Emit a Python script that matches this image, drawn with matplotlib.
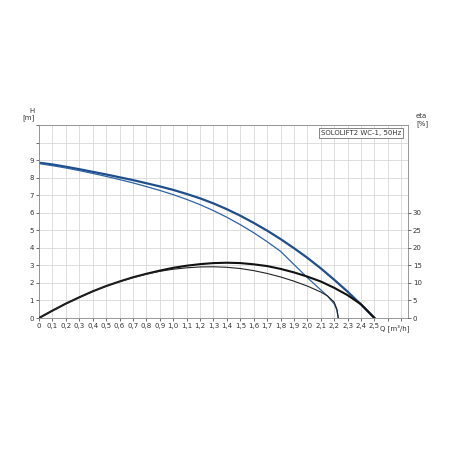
import numpy as np
import matplotlib.pyplot as plt

# pump curves
q_h1 = [0, 0.1, 0.2, 0.3, 0.4, 0.5, 0.6, 0.7, 0.8, 0.9, 1.0, 1.1, 1.2, 1.3, 1.4, 1.5, 1.6, 1.7, 1.8, 1.9, 2.0, 2.1, 2.2, 2.3, 2.4, 2.5]
h1 = [8.85, 8.75, 8.62, 8.48, 8.33, 8.18, 8.02, 7.86, 7.68, 7.5, 7.3, 7.07, 6.82, 6.53, 6.2, 5.83, 5.42, 4.98, 4.5, 3.98, 3.43, 2.83, 2.18, 1.5, 0.77, 0]
q_h2 = [0, 0.1, 0.2, 0.3, 0.4, 0.5, 0.6, 0.7, 0.8, 0.9, 1.0, 1.1, 1.2, 1.3, 1.4, 1.5, 1.6, 1.7, 1.8, 1.9, 2.0, 2.1, 2.15, 2.2, 2.22, 2.23]
h2 = [8.8, 8.68, 8.55, 8.4, 8.24, 8.07, 7.89, 7.7, 7.49, 7.27, 7.03, 6.76, 6.46, 6.12, 5.74, 5.32, 4.86, 4.35, 3.8, 3.05, 2.3, 1.6, 1.25, 0.8, 0.45, 0]
q_e1 = [0, 0.1, 0.2, 0.3, 0.4, 0.5, 0.6, 0.7, 0.8, 0.9, 1.0, 1.1, 1.2, 1.3, 1.4, 1.5, 1.6, 1.7, 1.8, 1.9, 2.0, 2.1, 2.2, 2.3, 2.4, 2.5]
eta1 = [0, 2.1, 4.1, 5.9, 7.6, 9.1, 10.4, 11.6, 12.6, 13.5, 14.3, 14.9, 15.35, 15.65, 15.75, 15.65, 15.3, 14.8, 14.0, 13.0, 11.8, 10.4, 8.6, 6.5, 3.9, 0]
q_e2 = [0, 0.1, 0.2, 0.3, 0.4, 0.5, 0.6, 0.7, 0.8, 0.9, 1.0, 1.1, 1.2, 1.3, 1.4, 1.5, 1.6, 1.7, 1.8, 1.9, 2.0, 2.1, 2.15, 2.2, 2.22, 2.23]
eta2 = [0, 2.1, 4.1, 5.9, 7.6, 9.1, 10.4, 11.5, 12.5, 13.3, 13.9, 14.3, 14.55, 14.6, 14.45, 14.1, 13.5, 12.7, 11.7, 10.5, 9.1, 7.4, 6.3, 4.5, 2.5, 0]

fig = plt.figure(figsize=(4.5, 4.5), dpi=100)
ax = fig.add_axes([0.0867, 0.2933, 0.82, 0.429])
ax.set_xlim(0, 2.75)
ax.set_ylim(0, 11)
ax.set_xticks(np.arange(0, 2.751, 0.1))
ax.set_xticklabels([('%.1f' % v).replace('.', ',') if v > 0.01 else '0' for v in np.arange(0, 2.51, 0.1)] + ['', ''], fontsize=5)
ax.set_yticks(range(0, 12))
ax.set_yticklabels([str(i) if i <= 9 else '' for i in range(12)], fontsize=5)
ax.grid(True, color='#d8d8d8', lw=0.6)
ax.tick_params(length=2, width=0.5, pad=1.5, colors='#333333')
for s in ax.spines.values():
    s.set_color('#888888')
    s.set_linewidth(0.6)

ax.plot(q_h1, h1, color='#1f4e8c', lw=1.6)
ax.plot(q_h2, h2, color='#2f62a4', lw=0.9)

ax2 = ax.twinx()
ax2.set_ylim(0, 55)
ax2.set_yticks(range(0, 31, 5))
ax2.set_yticklabels([str(i) for i in range(0, 31, 5)], fontsize=5)
ax2.tick_params(length=2, width=0.5, pad=1.5, colors='#333333')
for s in ax2.spines.values():
    s.set_visible(False)
ax2.plot(q_e1, eta1, color='#111111', lw=1.5)
ax2.plot(q_e2, eta2, color='#222222', lw=0.8)

ax.text(2.65, -0.55, 'Q [m³/h]', fontsize=5, ha='center', va='center', color='#333333')
ax.text(-0.03, 11.6, 'H\n[m]', fontsize=5, ha='right', va='center', color='#333333')
ax.text(2.81, 11.3, 'eta\n[%]', fontsize=5, ha='left', va='center', color='#333333')
ax.text(2.7, 10.55, 'SOLOLIFT2 WC-1, 50Hz', fontsize=5, ha='right', va='center', color='#333333',
        bbox=dict(boxstyle='square,pad=0.3', fc='white', ec='#555555', lw=0.5))

fig.savefig('out.png', dpi=100)
